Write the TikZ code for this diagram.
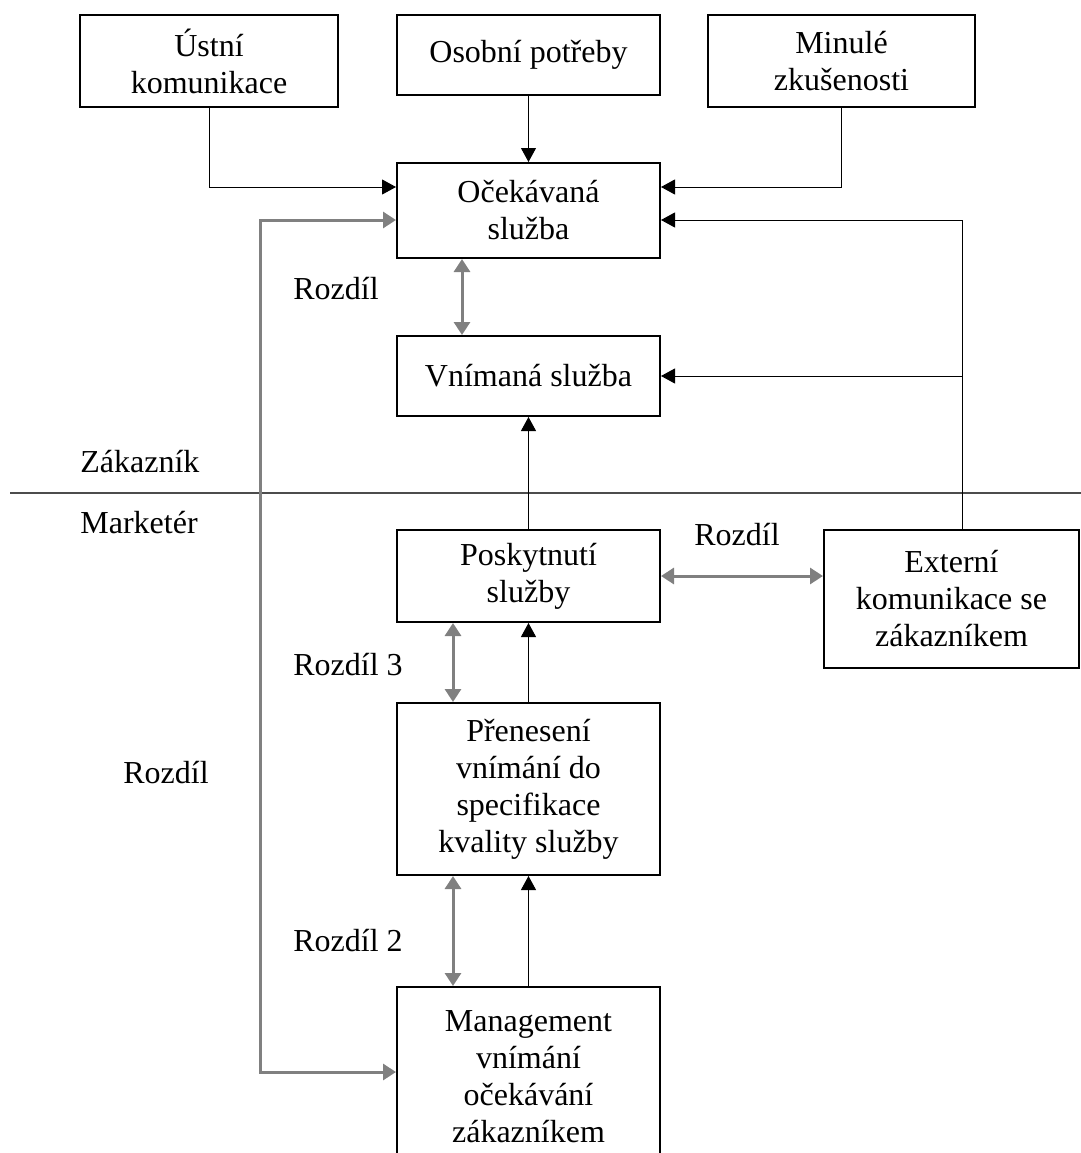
\documentclass[tikz,border=0pt]{standalone}
\usepackage{fontspec}
\setmainfont{Liberation Serif}
\usetikzlibrary{arrows.meta}
\newcommand{\dfont}{\fontsize{16pt}{18.5pt}\selectfont}

\begin{document}
\begin{tikzpicture}
                \tikzset{x=0.5pt, y=-0.5pt}
                \tikzstyle{box}=[rectangle, draw, line width=1pt, inner sep=0pt, align=center, font=\dfont, minimum width=131.5pt]
                \tikzstyle{lbl}=[inner sep=0pt, font=\dfont, anchor=base west]
                \tikzstyle{arr}=[line width=0.5pt, -{Triangle[length=7pt, width=7.5pt]}]
                \tikzstyle{gap}=[line width=1.5pt, gray, {Triangle[length=6.5pt, width=8pt]}-{Triangle[length=6.5pt, width=8pt]}]

                \useasboundingbox (0,0) rectangle (1081,1153);

                % zakaznik
                \draw (209.0, 61.0)     node[box, minimum width=129pt, minimum height=46pt]     (ustni)  {Ústní\\komunikace};
                \draw (528.5, 55.0)     node[box, minimum height=40pt]                          (osobni) {Osobní potřeby};
                \draw (841.5, 61.0)     node[box, minimum width=133.5pt, minimum height=46pt]   (minule) {Minulé\\zkušenosti};
                \draw (528.5, 210.5)    node[box, minimum height=47.5pt]                        (ocek)   {Očekávaná\\služba};
                \draw (528.5, 376.0)    node[box, minimum height=40pt]                          (vnim)   {Vnímaná služba};

                % marketer
                \draw (528.5, 576.0)    node[box, minimum height=46pt]                          (posk)   {Poskytnutí\\služby};
                \draw (951.5, 599.0)    node[box, minimum width=127.5pt, minimum height=69pt]   (ext)    {Externí\\komunikace se\\zákazníkem};
                \draw (528.5, 789.0)    node[box, minimum height=86pt]                          (pren)   {Přenesení\\vnímání do\\specifikace\\kvality služby};
                \draw (528.5, 1077.0)   node[box, minimum height=90pt]                          (mgmt)   {Management\\vnímání\\očekávání\\zákazníkem};

                \draw (80.0, 472.0)     node[lbl]   (zak)   {Zákazník};
                \draw (80.0, 533.0)     node[lbl]   (mark)  {Marketér};
                \draw (293.0, 299.0)    node[lbl]   (r1)    {Rozdíl};
                \draw (694.0, 545.0)    node[lbl]   (r5)    {Rozdíl};
                \draw (293.0, 675.0)    node[lbl]   (r3)    {Rozdíl 3};
                \draw (123.0, 783.0)    node[lbl]   (r4)    {Rozdíl};
                \draw (293.0, 951.0)    node[lbl]   (r2)    {Rozdíl 2};

                \draw [line width=0.6pt, black!70] (10,493) -- (1081,493);
                \coordinate (loop) at (260, 600);

                \draw [arr]     (ustni.south) |- ([yshift=11.75pt]ocek.west);
                \draw [arr]     (osobni) -- (ocek);
                \draw [arr]     (minule.south) |- ([yshift=11.75pt]ocek.east);
                \draw [arr]     ([xshift=5.25pt]ext.north) |- ([yshift=-4.75pt]ocek.east);
                \draw [arr]     ([xshift=5.25pt]ext.north) |- (vnim.east);
                \draw [arr]     (posk) -- (vnim);
                \draw [arr]     (pren) -- (posk);
                \draw [arr]     (mgmt) -- (pren);

                \draw [gap]     ([xshift=-33.25pt]ocek.south) -- ([xshift=-33.25pt]vnim.north);
                \draw [gap]     (posk.east) -- (ext.west |- posk.east);
                \draw [gap]     ([xshift=-37.75pt]posk.south) -- ([xshift=-37.75pt]pren.north);
                \draw [gap]     ([xshift=-37.75pt]pren.south) -- ([xshift=-37.75pt]mgmt.north);
                \draw [gap]     ([yshift=-4.75pt]ocek.west) -| (loop) |- ([yshift=2.5pt]mgmt.west);
            \end{tikzpicture}
\end{document}
